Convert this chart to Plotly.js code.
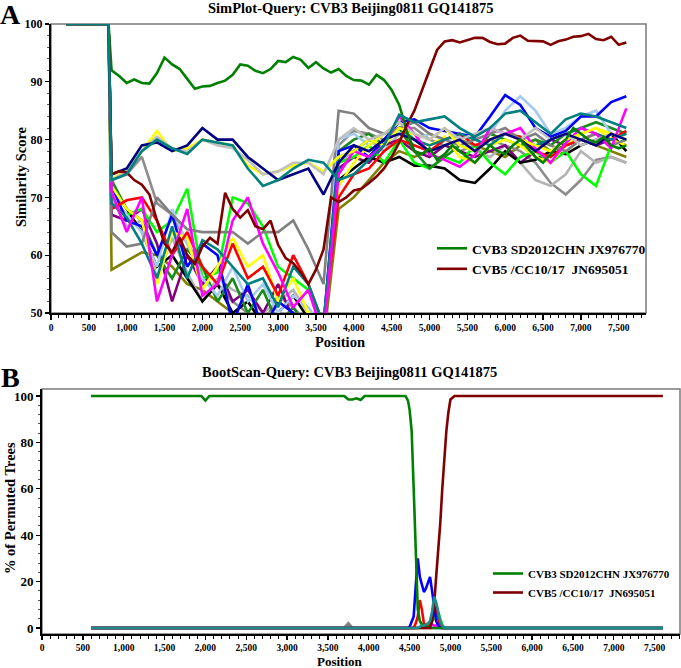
<!DOCTYPE html>
<html>
<head>
<meta charset="utf-8">
<script src="https://cdn.plot.ly/plotly-3.0.1.min.js"></script>
<style>html,body{margin:0;padding:0;background:#fff;}#chart{width:681px;height:668px;}</style>
</head>
<body>
<div id="chart"></div>
<script>
// ---------- Panel A: SimPlot ----------
const POS_A = [200, 760, 800, 1000, 1200, 1400, 1600, 1800, 2000, 2200, 2400, 2600, 2800, 3000, 3200, 3400, 3600,
  3800, 4000, 4200, 4400, 4600, 4800, 5000, 5200, 5400, 5600, 5800, 6000, 6200, 6400, 6600, 6800, 7000, 7200, 7400, 7600];
const POS_A_FINE = [200, 760, 800, 900, 1000, 1100, 1200, 1300, 1400, 1500, 1600, 1700, 1800, 1900, 2000, 2100, 2200, 2300, 2400,
  2500, 2600, 2700, 2800, 2900, 3000, 3100, 3200, 3300, 3400, 3500, 3600, 3700, 3800, 3900, 4000, 4100, 4200, 4300,
  4400, 4500, 4600, 4700, 4800, 4900, 5000, 5100, 5200, 5300, 5400, 5500, 5600, 5700, 5800, 5900, 6000, 6100, 6200,
  6300, 6400, 6500, 6600, 6700, 6800, 6900, 7000, 7100, 7200, 7300, 7400, 7500, 7600];

const SIM_CVB3_SD2012 = [100, 100, 92, 91, 89.8, 90.4, 89.8, 89.7, 91.5, 94.2, 93, 92.2, 90.5, 88.8, 89.2, 89.3, 89.8, 90.2, 91.2,
  93, 92.8, 91.9, 91.5, 92.2, 93.6, 93.4, 94.3, 93.8, 92.4, 93.4, 92.3, 91.6, 92.2, 91, 90.3, 90.2, 89.5, 91.2,
  90.3, 88.6, 86, 81.5, 78, 77.5, 78.5, 76.5, 77.5, 79, 78, 77, 76, 77.5, 79, 78, 77.5, 79, 80,
  78.5, 77, 76, 77.5, 79, 80, 82, 81, 80, 79.5, 80.5, 79, 78.5, 79];
const SIM_CVB5_CC10 = [100, 100, 74, 74.5, 74.3, 73, 72.2, 70.5, 66, 62, 60.5, 63, 60, 58.5, 61.5, 63, 62, 70.8, 68,
  66.5, 67.8, 65, 64.5, 66, 61.8, 59.5, 58.6, 57, 55, 57.5, 61, 70, 69.2, 70, 71.2, 71.5, 72.5, 73.6,
  75, 77, 79.5, 82.5, 85, 88.5, 92, 95.5, 97, 97.2, 96.8, 97.2, 97.6, 97.6, 96.9, 96.5, 96.6, 97.6, 98,
  97.1, 97.1, 97, 96.4, 97, 97.3, 97.8, 97.9, 98.3, 97.4, 97.2, 97.8, 96.4, 96.8];

const SIM_NAVY = [100, 100, 74, 75, 79, 79.5, 78, 79, 82, 80, 80, 77, 75, 73, 74, 75, 70.5,
  76, 79, 78, 80, 81, 80, 78, 79, 80, 78, 80, 81, 80, 78, 80, 81, 80, 79, 81, 80];
const SIM_SILVER = [100, 100, 73, 74.5, 78, 80.5, 78.5, 78, 80, 79, 78.5, 76.5, 74, 74.5, 76, 76, 74,
  80, 82, 80, 81, 83, 81, 80, 82, 80, 81, 82, 81, 80, 82, 80, 81, 79, 80, 81, 80];
const SIM_YELLOW_U = [100, 100, 73, 75, 78, 81.5, 78, 78.5, 80, 79.5, 79, 75.5, 74, 74.5, 75.5, 76, 74.5,
  77, 78, 80, 79, 82, 81, 80, 82, 79, 78, 80, 81, 80, 79, 78, 80, 81, 82, 81, 80];
const SIM_TEAL_U = [100, 100, 73, 74, 78, 80, 78.5, 77.5, 80, 79.5, 79, 75, 72, 73, 75, 76.5, 76,
  73, 74, 76.5, 79, 84.3, 83, 83.5, 84, 82, 80.5, 82, 84.5, 85, 83, 81, 83.5, 84.5, 84, 83, 82];

const SIM_RED = [100, 100, 68, 69.5, 70, 66, 60, 64, 58, 55, 62, 56, 58, 53, 60, 55, 48,
  70, 74, 75, 78, 80, 79, 78, 80, 81, 79, 80, 81, 80.5, 78, 77, 79, 80, 81, 80, 81.5];
const SIM_BLUE = [100, 100, 72, 66, 65, 60, 67, 58, 62, 60, 48, 55, 47, 52, 50, 46, 48,
  78, 79, 77, 80, 83, 83.5, 82, 81.5, 81, 80.5, 84, 87.7, 86, 82, 80.5, 81.5, 84, 84, 86.5, 87.5];
const SIM_LIME = [100, 100, 70, 67, 68, 64, 66, 71.5, 56, 57, 70, 69, 65, 58, 56, 54, 48,
  76, 77, 79, 76, 80, 76, 75, 77, 76, 79, 76, 74, 77, 78, 76, 78, 74, 72, 79, 80];
const SIM_MAGENTA = [100, 100, 71, 64, 70, 52, 60, 68, 53, 55, 66, 70, 62, 57, 51, 54, 46,
  74, 78, 77, 79, 84, 81, 77.5, 76.5, 75.3, 77.3, 82, 81, 82, 78.5, 76, 79.4, 82, 81, 78.5, 85.4];
const SIM_YELLOW = [100, 100, 72, 68, 66, 55, 64, 63, 54, 58, 63, 58, 60, 52, 56, 50, 47,
  72, 76, 79, 81, 83, 80, 79, 80.5, 77, 76, 79, 80, 79, 77, 76, 79, 81, 82, 80, 79];
const SIM_BLACK = [100, 100, 72, 68, 64, 58, 60, 56, 52, 55, 50, 52, 48, 50, 53, 49, 47,
  73, 75, 77, 76, 77, 75.5, 75.5, 75, 73, 72.5, 75, 78, 76, 76.5, 78, 77.5, 79, 80, 81, 78];
const SIM_GRAY_P = [100, 100, 64, 61.5, 62, 70, 67, 64.5, 64, 64, 64, 62, 64, 64, 66, 61, 55,
  85, 84.5, 82, 81, 82, 83, 81, 80, 79, 80, 81, 82, 80, 81, 79, 78, 80, 81, 79, 80];
const SIM_GRAY_2 = [100, 100, 73, 74, 77, 69, 67, 62, 58, 55, 52, 50, 48, 53, 51, 48, 46,
  79, 81.5, 81, 80, 82, 82, 80, 79, 78, 79, 80, 79, 78, 76, 72.5, 70.5, 73, 76.5, 77, 76];
const SIM_OLIVE = [100, 100, 57.5, 59, 60.5, 60, 58, 55, 54, 52, 50, 48, 47, 48, 50, 47, 45,
  68, 70, 73, 76, 78, 77, 78, 79, 80, 79, 78, 77, 79, 80, 78, 79, 80, 79, 78, 77];
const SIM_PURPLE = [100, 100, 67, 66, 68, 62, 52, 60, 55, 58, 52, 54, 50, 55, 49, 48, 46,
  75, 77, 76, 79, 80, 78, 77, 79, 78, 77, 78, 79, 76, 78, 80, 79, 80, 79, 80, 79];
const SIM_GREEN_2 = [100, 100, 73, 68, 66, 60, 56, 61, 58, 52, 56, 50, 54, 48, 51, 47, 46,
  78, 80, 81, 79, 82, 78, 75, 77, 79, 78, 81, 80, 79, 80, 79, 81, 82, 83, 82, 81];
const SIM_TEAL_2 = [100, 100, 69, 66.5, 62, 56, 65, 56, 62.6, 61, 58, 55, 56, 51, 58, 55, 48,
  77, 78, 80, 79, 82, 80, 79, 80, 81, 80, 79, 81, 80, 79, 80, 81, 82, 81, 80, 81];
const SIM_LIGHTBLUE = [100, 100, 70, 67, 64, 58, 68, 62, 56, 53, 58, 52, 55, 50, 53, 51, 47,
  80, 81, 79, 81, 83, 80, 81, 80, 80.5, 80, 81, 85, 87.5, 85, 81, 82, 84, 85, 81, 80];
const SIM_LIGHTGRAY = [100, 100, 70, 65, 66, 56, 63, 57, 52, 56, 54, 53, 50, 52, 54, 50, 47,
  76, 78, 80, 78, 81, 79, 78, 79, 80, 78, 77, 79, 76, 73, 72, 74, 78, 76, 77, 76];

// ---------- Panel B: BootScan ----------
const POS_B = [600, 1950, 2000, 2050, 3700, 3750, 3800, 3850, 3900, 3950,
  4450, 4480, 4500, 4525, 4550, 4575, 4600, 4625, 4650, 4675, 4700, 4725, 4750, 4775, 4800, 4825, 4850, 4875,
  4900, 4925, 4950, 4975, 5000, 5050, 7600];
const BS_CVB3_SD2012 = [100, 100, 98, 100, 100, 98.5, 98.5, 99, 98.3, 100,
  100, 98, 94, 85, 60, 30, 8, 3, 1.5, 1, 0.5, 0.3, 0, 0, 0, 0, 0, 0, 0, 0, 0, 0, 0, 0, 0];
const BS_CVB5_CC10 = [0, 0, 0, 0, 0, 0, 0, 0, 0, 0,
  0, 0, 0, 0, 0, 0, 0, 0, 0, 0, 0, 0, 0, 3, 10, 22, 33, 45, 60, 75, 85, 93, 98.5, 100, 100];
const BS_BLUE = [0, 0, 0, 0, 0, 0, 0, 0, 0, 0,
  0, 0, 0.5, 3, 5, 18, 30, 22, 19, 15.5, 17, 20, 22, 16, 10, 3, 1, 0, 0, 0, 0, 0, 0, 0, 0];
const BS_RED = [0, 0, 0, 0, 0, 0, 0, 0, 0, 0,
  0, 0, 0, 0, 0, 2, 5, 12, 8, 2, 1, 0.5, 1, 3, 8, 9, 4, 1, 0, 0, 0, 0, 0, 0, 0];
const BS_LIME = [0, 0, 0, 0, 0, 0, 0, 0, 0, 0,
  0, 0, 0, 0, 0, 0, 0, 0, 0.5, 1, 0.5, 1, 2, 3, 4, 6, 7, 4, 1.5, 0, 0, 0, 0, 0, 0];
const BS_MAGENTA = [0, 0, 0, 0, 0, 0, 0, 0, 0, 0,
  0, 0, 0, 0, 0, 0, 0, 0.5, 1, 1.5, 1, 1, 1, 1.5, 1, 1, 1.5, 1, 0.5, 0, 0, 0, 0, 0, 0];
const BS_GRAY = [0, 0, 0, 0, 0, 2, 0, 0, 0, 0,
  0, 0, 0, 0, 0, 0, 0, 0, 0, 0, 0, 0, 0, 0, 0, 0, 0, 0, 0, 0, 0, 0, 0, 0, 0];
const BS_TEAL = [0, 0, 0, 0, 0, 0, 0, 0, 0, 0,
  0, 0, 0, 0, 0, 0, 0, 0.5, 1, 1, 1.5, 2, 3, 7, 13.5, 11, 7, 3, 1, 0, 0, 0, 0, 0, 0];

const LEGEND_NAMES = ['CVB3 SD2012CHN JX976770', 'CVB5 /CC10/17  JN695051'];
const TITLE_A = 'SimPlot-Query: CVB3 Beijing0811 GQ141875';
const TITLE_B = 'BootScan-Query: CVB3 Beijing0811 GQ141875';
const X_TITLE = 'Position';
const Y_TITLE_A = 'Similarity Score';
const Y_TITLE_B = '% of Permuted Trees';

const FONT = 'Liberation Serif, Times New Roman, serif';
const LW = 2.6;

function bg(x, y, color, xa, ya) {
  return {x: x, y: y, type: 'scatter', mode: 'lines', line: {color: color, width: LW},
    xaxis: xa, yaxis: ya, showlegend: false, hoverinfo: 'skip'};
}

const traces = [
  bg(POS_A, SIM_OLIVE, '#808000', 'x', 'y'),
  bg(POS_A, SIM_GRAY_2, '#8c8c8c', 'x', 'y'),
  bg(POS_A, SIM_LIGHTGRAY, '#b4b4b4', 'x', 'y'),
  bg(POS_A, SIM_PURPLE, '#800080', 'x', 'y'),
  bg(POS_A, SIM_BLACK, '#000000', 'x', 'y'),
  bg(POS_A, SIM_LIME, '#00ff00', 'x', 'y'),
  bg(POS_A, SIM_GREEN_2, '#1a8a1a', 'x', 'y'),
  bg(POS_A, SIM_LIGHTBLUE, '#a6caf0', 'x', 'y'),
  bg(POS_A, SIM_BLUE, '#0000ff', 'x', 'y'),
  bg(POS_A, SIM_YELLOW, '#ffff00', 'x', 'y'),
  bg(POS_A, SIM_RED, '#ff0000', 'x', 'y'),
  bg(POS_A, SIM_GRAY_P, '#808080', 'x', 'y'),
  bg(POS_A, SIM_TEAL_2, '#008080', 'x', 'y'),
  bg(POS_A, SIM_MAGENTA, '#ff00ff', 'x', 'y'),
  bg(POS_A, SIM_YELLOW_U, '#ffff00', 'x', 'y'),
  bg(POS_A, SIM_SILVER, '#c0c0c0', 'x', 'y'),
  bg(POS_A, SIM_NAVY, '#000080', 'x', 'y'),
  {x: POS_A_FINE, y: SIM_CVB3_SD2012, type: 'scatter', mode: 'lines', name: LEGEND_NAMES[0],
    line: {color: '#008000', width: LW}, xaxis: 'x', yaxis: 'y', legend: 'legend', hoverinfo: 'skip'},
  {x: POS_A_FINE, y: SIM_CVB5_CC10, type: 'scatter', mode: 'lines', name: LEGEND_NAMES[1],
    line: {color: '#800000', width: LW}, xaxis: 'x', yaxis: 'y', legend: 'legend', hoverinfo: 'skip'},
  bg(POS_A, SIM_TEAL_U, '#008080', 'x', 'y'),

  bg(POS_B, BS_GRAY, '#808080', 'x2', 'y2'),
  bg(POS_B, BS_MAGENTA, '#ff00ff', 'x2', 'y2'),
  bg(POS_B, BS_LIME, '#00ff00', 'x2', 'y2'),
  bg(POS_B, BS_RED, '#ff0000', 'x2', 'y2'),
  bg(POS_B, BS_BLUE, '#0000ff', 'x2', 'y2'),
  {x: POS_B, y: BS_CVB3_SD2012, type: 'scatter', mode: 'lines', name: LEGEND_NAMES[0],
    line: {color: '#008000', width: LW}, xaxis: 'x2', yaxis: 'y2', legend: 'legend2', hoverinfo: 'skip'},
  {x: POS_B, y: BS_CVB5_CC10, type: 'scatter', mode: 'lines', name: LEGEND_NAMES[1],
    line: {color: '#800000', width: LW}, xaxis: 'x2', yaxis: 'y2', legend: 'legend2', hoverinfo: 'skip'},
  bg(POS_B, BS_TEAL, '#1a8c8c', 'x2', 'y2')
];

const W = 681, H = 668;
const px = v => v / W, py = v => 1 - v / H;

function xax(domain, range, anchor, tsize, tlen) {
  return {domain: domain, range: range, anchor: anchor, tick0: 0, dtick: 500, tickformat: ',d',
    ticks: 'outside', ticklen: tlen, tickwidth: 1.3, tickcolor: '#000',
    minor: {dtick: 100, ticks: 'outside', ticklen: 3, tickwidth: 1, tickcolor: '#000'},
    showline: true, linecolor: '#000', linewidth: 2, showgrid: false, zeroline: false,
    tickfont: {family: FONT, size: tsize, color: '#000', weight: 'bold'}};
}
function yax(domain, range, anchor, dtick, minor, tsize) {
  return {domain: domain, range: range, anchor: anchor, dtick: dtick, tick0: 0,
    ticks: 'outside', ticklen: 4, tickwidth: 1.3, tickcolor: '#000',
    minor: {dtick: minor, ticks: 'outside', ticklen: 2.5, tickwidth: 1, tickcolor: '#555'},
    showline: true, linecolor: '#000', linewidth: 2, showgrid: false, zeroline: false,
    tickfont: {family: FONT, size: tsize, color: '#000', weight: 'bold'}};
}
function txt(text, x, y, size, angle) {
  return {text: text, xref: 'paper', yref: 'paper', x: px(x), y: py(y), xanchor: 'center', yanchor: 'middle',
    showarrow: false, textangle: angle || 0, font: {family: FONT, size: size, color: '#000', weight: 'bold'}};
}

const layout = {
  width: W, height: H, margin: {l: 0, r: 0, t: 0, b: 0},
  paper_bgcolor: '#fff', plot_bgcolor: '#fff',
  font: {family: FONT, color: '#000'},
  xaxis: xax([px(51), px(646)], [0, 7860], 'y', 9.5, 5),
  yaxis: yax([py(313), py(24)], [50, 100], 'x', 10, 2, 12),
  xaxis2: xax([px(42), px(680)], [0, 7810], 'y2', 9.5, 4),
  yaxis2: yax([py(634), py(389)], [-2.6, 103], 'x2', 20, 4, 13),
  legend: {x: px(432), y: py(233), xanchor: 'left', yanchor: 'top', bgcolor: 'rgba(0,0,0,0)',
    font: {family: FONT, size: 13.5, color: '#000', weight: 'bold'}, tracegroupgap: 0},
  legend2: {x: px(488), y: py(559), xanchor: 'left', yanchor: 'top', bgcolor: 'rgba(0,0,0,0)',
    font: {family: FONT, size: 11, color: '#000', weight: 'bold'}, tracegroupgap: 0},
  shapes: [
    {type: 'rect', xref: 'x domain', yref: 'y domain', x0: 0, x1: 1, y0: 0, y1: 1,
      line: {color: '#7a7a7a', width: 1.5}, layer: 'below'},
    {type: 'rect', xref: 'x2 domain', yref: 'y2 domain', x0: 0, x1: 1, y0: 0, y1: 1,
      line: {color: '#7a7a7a', width: 1.5}, layer: 'below'}
  ],
  annotations: [
    txt(TITLE_A, 351, 8, 14.5),
    txt('A', 10, 15, 28),
    txt(X_TITLE, 340, 342, 14.5),
    txt(Y_TITLE_A, 21, 177, 14.5, -90),
    txt(TITLE_B, 349, 372, 14.5),
    txt('B', 10, 377, 28),
    txt(X_TITLE, 340, 661, 13),
    txt(Y_TITLE_B, 10, 508, 14.5, -90)
  ]
};

Plotly.newPlot('chart', traces, layout, {staticPlot: true, displayModeBar: false});
</script>
</body>
</html>
